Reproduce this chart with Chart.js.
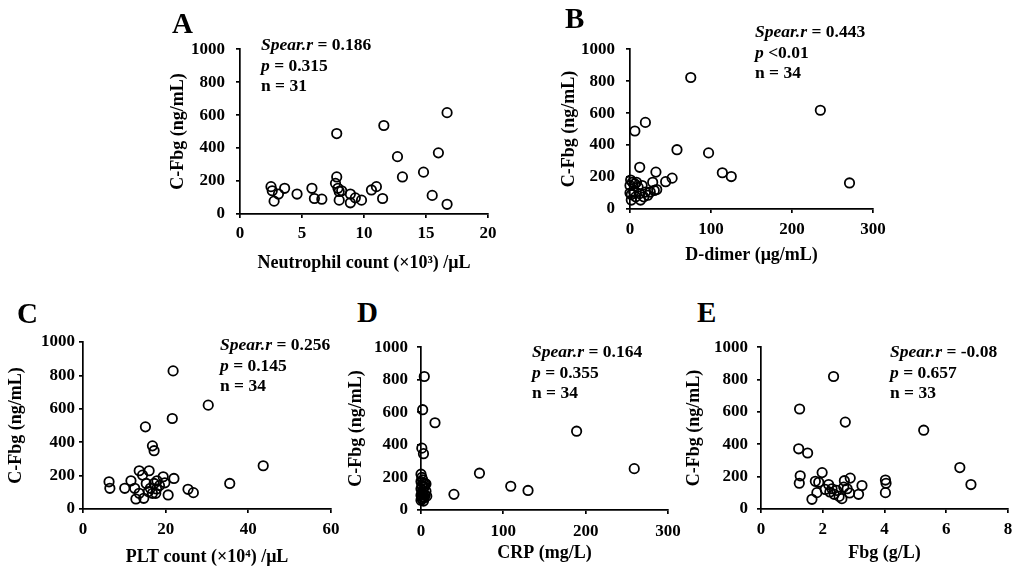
<!DOCTYPE html>
<html>
<head>
<meta charset="utf-8">
<script src="https://cdn.jsdelivr.net/npm/chart.js@4"></script>
<style>
body { margin: 0; background: #fff; width: 1024px; height: 572px; position: relative; overflow: hidden; }
canvas { position: absolute; }
.letter { position: absolute; font: bold 29px "Liberation Serif", serif; line-height: 29px; color: #000; }
.note { position: absolute; font: bold 17.5px "Liberation Serif", serif; line-height: 20.5px; color: #000; white-space: nowrap; }
.note i { font-style: italic; }
</style>
</head>
<body>
<canvas id="chartA"></canvas>
<canvas id="chartB"></canvas>
<canvas id="chartC"></canvas>
<canvas id="chartD"></canvas>
<canvas id="chartE"></canvas>

<div class="letter" style="left:172px;top:9px">A</div>
<div class="letter" style="left:565px;top:4px">B</div>
<div class="letter" style="left:17px;top:299px">C</div>
<div class="letter" style="left:357px;top:298px">D</div>
<div class="letter" style="left:697px;top:298px">E</div>

<div class="note" style="left:261px;top:34px"><i>Spear.r</i> = 0.186<br><i>p</i> = 0.315<br>n = 31</div>
<div class="note" style="left:755px;top:21px"><i>Spear.r</i> = 0.443<br><i>p</i> &lt;0.01<br>n = 34</div>
<div class="note" style="left:220px;top:334px"><i>Spear.r</i> = 0.256<br><i>p</i> = 0.145<br>n = 34</div>
<div class="note" style="left:532px;top:341px"><i>Spear.r</i> = 0.164<br><i>p</i> = 0.355<br>n = 34</div>
<div class="note" style="left:890px;top:341px"><i>Spear.r</i> = -0.08<br><i>p</i> = 0.657<br>n = 33</div>

<script>
// C-Fbg (ng/mL) against each marker
const neutX = [2.5, 2.6, 2.75, 3.1, 3.6, 4.6, 5.8, 6.0, 6.6, 7.8, 7.8, 7.7, 7.9, 8.0, 8.2, 8.0, 8.9, 8.9, 9.3, 9.8, 10.6, 11.0, 11.5, 11.6, 12.7, 13.1, 14.8, 15.5, 16.0, 16.7, 16.7];
const neutY = [166, 141, 78, 121, 156, 121, 156, 94, 90, 488, 225, 186, 156, 137, 141, 84, 121, 68, 98, 84, 146, 166, 94, 537, 348, 225, 254, 113, 371, 615, 59];

const ddimerX = [75, 235, 6, 19, 58, 97, 114, 125, 271, 12, 32, 52, 44, 28, 0.8, 3, 6, 8, 0, 1.6, 4.5, 7, 10, 12, 13, 15, 17, 19, 22, 25, 33, 30, 0, 1.6];
const ddimerY = [823, 618, 488, 542, 371, 351, 227, 203, 163, 261, 231, 193, 171, 167, 181, 167, 157, 167, 100, 90, 106, 76, 137, 96, 56, 147, 76, 106, 86, 106, 122, 116, 147, 56];

const pltX = [21.8, 30.3, 21.6, 15.1, 16.8, 17.2, 43.6, 35.5, 6.3, 6.5, 10.1, 11.6, 12.5, 12.8, 13.6, 14.4, 13.6, 14.7, 15.3, 16.0, 16.3, 16.8, 17.2, 17.8, 17.9, 17.6, 15.8, 19.4, 19.8, 18.5, 22.0, 20.6, 25.4, 26.7];
const pltY = [827, 622, 542, 492, 378, 349, 259, 153, 163, 124, 124, 169, 124, 60, 229, 203, 94, 64, 153, 229, 124, 94, 153, 120, 169, 94, 104, 193, 157, 140, 183, 84, 118, 98];

const crpX = [4, 2, 17, 1, 3, 40, 71, 109, 130, 189, 259, 0, 1, 2, 0, 3, 5, 1, 4, 0, 2, 6, 1, 3, 0, 7, 2, 4, 1, 0, 3, 6, 2, 5];
const crpY = [820, 616, 536, 380, 346, 96, 226, 146, 120, 484, 254, 220, 200, 185, 175, 165, 160, 150, 140, 130, 120, 115, 105, 95, 90, 85, 80, 75, 70, 60, 55, 160, 100, 90];

const fbgX = [2.35, 1.25, 2.73, 5.27, 1.22, 1.51, 6.44, 6.8, 1.27, 1.24, 1.98, 1.76, 1.87, 1.81, 1.65, 2.08, 2.19, 2.23, 2.3, 2.37, 2.45, 2.53, 2.62, 2.68, 2.7, 2.79, 2.89, 2.87, 3.16, 3.27, 4.03, 4.05, 4.03];
const fbgY = [819, 618, 537, 487, 372, 346, 256, 151, 205, 159, 225, 171, 165, 101, 60, 121, 151, 105, 125, 91, 115, 78, 64, 135, 175, 125, 191, 99, 91, 145, 179, 159, 101];

const yTitle = 'C-Fbg (ng/mL)';
const yMax = 1000, yStep = 200;

const tickFont = { family: 'Liberation Serif', size: 17, weight: 'bold' };
const titleFont = { family: 'Liberation Serif', size: 18, weight: 'bold' };

function makePanel(id, box, xs, ys, xMax, xStep, xTitle) {
    const canvas = document.getElementById(id);
    canvas.width = box.w;
    canvas.height = box.h;
    canvas.style.left = box.left + 'px';
    canvas.style.top = box.top + 'px';
    canvas.style.width = box.w + 'px';
    canvas.style.height = box.h + 'px';

    const points = xs.map((x, i) => ({ x: x, y: ys[i] }));

    const axisLine = { display: true, color: '#000', width: 1.7 };
    const tickMarks = { display: true, drawOnChartArea: false, drawTicks: true, tickLength: 4, color: '#000', lineWidth: 1.7 };

    return new Chart(canvas, {
        type: 'scatter',
        data: {
            datasets: [{
                data: points,
                pointStyle: 'circle',
                pointRadius: 4.7,
                pointHoverRadius: 4.7,
                borderWidth: 1.8,
                borderColor: '#000',
                backgroundColor: 'rgba(0,0,0,0)',
                clip: false
            }]
        },
        options: {
            responsive: false,
            animation: false,
            devicePixelRatio: 1,
            layout: { padding: { left: 0, top: box.padTop, right: box.padRight, bottom: 0 } },
            plugins: { legend: { display: false }, tooltip: { enabled: false } },
            scales: {
                x: {
                    type: 'linear',
                    min: 0,
                    max: xMax,
                    border: axisLine,
                    grid: tickMarks,
                    ticks: { stepSize: xStep, color: '#000', font: tickFont, padding: box.xPad, maxRotation: 0, callback: v => String(v) },
                    title: { display: true, text: xTitle, color: '#000', font: titleFont, padding: 0 },
                    afterFit: s => { s.height = box.xH; }
                },
                y: {
                    type: 'linear',
                    min: 0,
                    max: yMax,
                    border: axisLine,
                    grid: tickMarks,
                    ticks: { stepSize: yStep, color: '#000', font: tickFont, padding: box.yPad, callback: v => String(v) },
                    title: { display: true, text: yTitle, color: '#000', font: titleFont, padding: 0 },
                    afterFit: s => { s.width = box.yW; }
                }
            }
        }
    });
}

makePanel('chartA', { left: 168, top: 28, w: 340, h: 246, yW: 72, xH: 60, padTop: 15, padRight: 20, yPad: 11, xPad: 5 },
    neutX, neutY, 20, 5, 'Neutrophil count (×10³) /μL');
makePanel('chartB', { left: 559, top: 28, w: 334, h: 238, yW: 71, xH: 57, padTop: 15, padRight: 20, yPad: 11, xPad: 6 },
    ddimerX, ddimerY, 300, 100, 'D-dimer (μg/mL)');
makePanel('chartC', { left: 6, top: 327, w: 345, h: 241, yW: 77, xH: 59, padTop: 15, padRight: 20, yPad: 4, xPad: 6 },
    pltX, pltY, 60, 20, 'PLT count (×10⁴) /μL');
makePanel('chartD', { left: 346, top: 328, w: 342, h: 236, yW: 75, xH: 54, padTop: 15, padRight: 20, yPad: 9, xPad: 7 },
    crpX, crpY, 300, 100, 'CRP (mg/L)');
makePanel('chartE', { left: 684, top: 328, w: 338, h: 236, yW: 77, xH: 55, padTop: 15, padRight: 14, yPad: 9, xPad: 6 },
    fbgX, fbgY, 8, 2, 'Fbg (g/L)');
</script>
</body>
</html>
